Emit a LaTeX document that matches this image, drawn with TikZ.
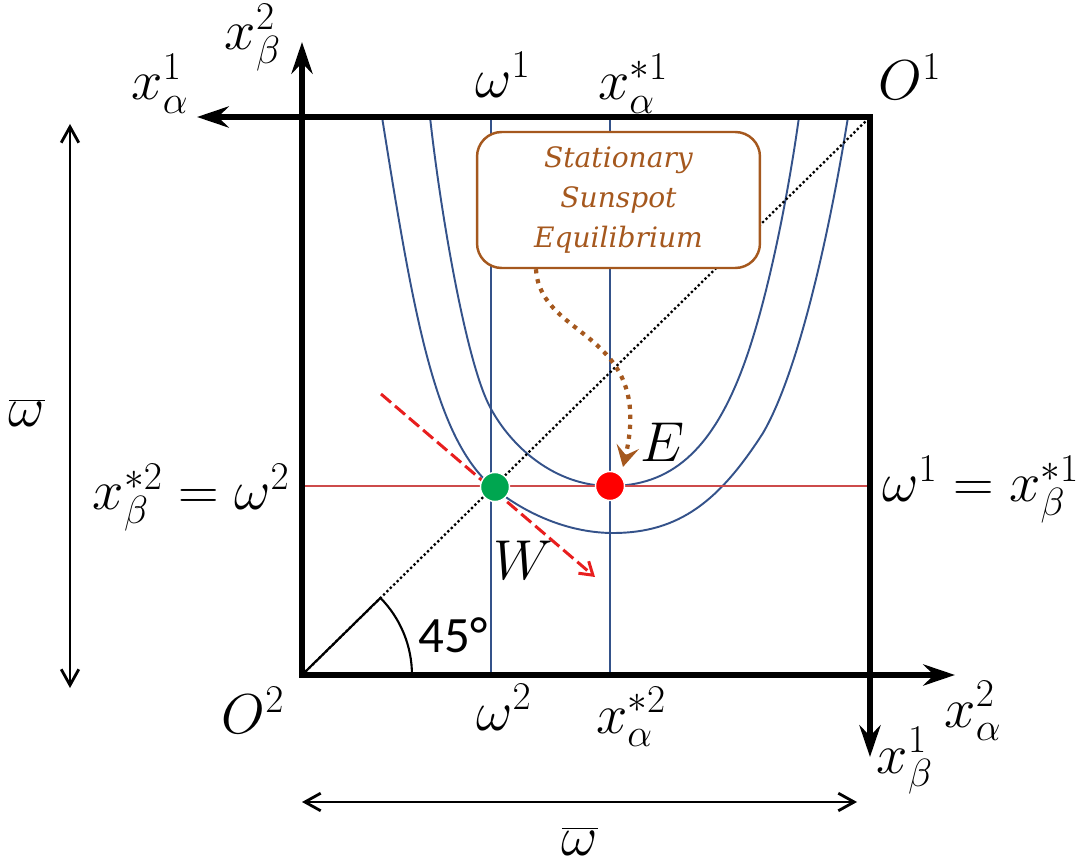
\RequirePackage{fix-cm}
\documentclass[tikz,border=0pt]{standalone}
\usepackage{fontspec}
\newfontfamily\calib{Carlito}
\newfontfamily\boxfont{DejaVu Serif}
\usetikzlibrary{arrows.meta}
\definecolor{curveblue}{RGB}{52,82,138}
\definecolor{hred}{RGB}{205,75,75}
\definecolor{sbrown}{RGB}{165,88,30}
\definecolor{wgreen}{RGB}{0,166,80}
\definecolor{dred}{RGB}{232,30,30}
\begin{document}
\begin{tikzpicture}[x=0.02cm, y=-0.02cm,
  lab/.style={inner sep=0pt, anchor=base, font=\fontsize{32}{38}\selectfont},
  axis/.style={line width=3.6pt, line join=miter, {Stealth[length=18pt,width=12pt,inset=6pt]}-{Stealth[length=18pt,width=12pt,inset=6pt]}},
  spanarrow/.style={line width=1.6pt, {Straight Barb[length=9pt,width=10pt]}-{Straight Barb[length=9pt,width=10pt]}},
  icurve/.style={curveblue, line width=1.1pt},
  hline/.style={hred, line width=1pt},
  diag/.style={black, line width=1.3pt, dash pattern=on 1.3pt off 1.4pt},
  rdash/.style={dred, line width=1.7pt, dash pattern=on 7.5pt off 3pt, -{Straight Barb[length=7pt,width=9pt]}},
  bflow/.style={sbrown, line width=2.4pt, dash pattern=on 2.4pt off 3.3pt, -{Stealth[length=12pt,width=13pt,inset=5pt]}},
  dot/.style={circle, draw=white, line width=0.8pt, inner sep=0pt, minimum size=0.58cm},
  sbox/.style={draw=sbrown, line width=1.4pt, rounded corners=14pt, fill=white, text=sbrown, align=center, minimum width=5.66cm, minimum height=2.72cm, font=\boxfont\itshape\fontsize{16}{22.7}\selectfont}
]
\path[use as bounding box] (0,0) rectangle (1090,868);

% main coordinates
\coordinate (O1) at (870,117);
\coordinate (O2) at (302,675);
\coordinate (xatip) at (197,117);
\coordinate (xbtip) at (870,757);
\coordinate (ybtip) at (302,42);
\coordinate (yatip) at (955,675);

% indifference curves
\draw[icurve] (382,117) .. controls (414,317) and (435,441) .. (495,489)
  .. controls (530,517) and (573,533) .. (613,533)
  .. controls (680,533) and (720,500) .. (763,433)
  .. controls (798,373) and (829,236) .. (848,117);
\draw[icurve] (430,117) .. controls (441,216) and (466.5,363) .. (490,407)
  .. controls (511,447) and (555,486) .. (610,486)
  .. controls (670,486) and (711.5,451.6) .. (743,367)
  .. controls (767.5,301) and (788,196) .. (799,117);

% vertical lines
\coordinate (w2t) at (491,117); \coordinate (w2b) at (491,675);
\coordinate (xt) at (610,117); \coordinate (xb) at (610,675);
\draw[icurve] (w2t) -- (w2b);
\draw[icurve] (xt) -- (xb);

% red horizontal line
\coordinate (hl) at (302,486); \coordinate (hr) at (870,486);
\draw[hline] (hl) -- (hr);

% diagonal
\draw[diag] (O2) -- (O1);
\draw[line width=1.2pt] (O2) -- ++(44.5:2.2cm);
\draw[line width=1.2pt] ([xshift=2.2cm]O2) arc[start angle=0, end angle=44.5, radius=2.2cm];

% red dashed arrow
\coordinate (rs) at (381,394); \coordinate (re) at (595,577);
\draw[rdash] (rs) -- (re);

% box
\node[sbox] (sse) at (618.5,200) {Stationary\\Sunspot\\Equilibrium};
\coordinate (etip) at (623,467);
\draw[bflow] (sse.220) .. controls (540,340) and (655,330) .. (etip);

% axes
\draw[axis] (xatip) -- (O1) -- (xbtip);
\draw[axis] (ybtip) -- (O2) -- (yatip);

% span arrows
\coordinate (lt) at (70,124); \coordinate (lb) at (70,688);
\coordinate (bl) at (302,802); \coordinate (br) at (857,802);
\draw[spanarrow] (lt) -- (lb);
\draw[spanarrow] (bl) -- (br);

% dots
\node[dot, fill=wgreen] (Wdot) at (495,487) {};
\node[dot, fill=red] (Edot) at (610,486) {};

% labels
\node[lab] (lxb2) at (253,50) {$x_\beta^2$};
\node[lab] (lxa1) at (160,100) {$x_\alpha^1$};
\node[lab] (lw1) at (503,98) {$\omega^1$};
\node[lab] (lxas1) at (633,100) {$x_\alpha^{*1}$};
\node[lab] (lO1) at (910,100) {$O^1$};
\node[lab, anchor=base east] (lleft) at (290,510) {$x_\beta^{*2}=\omega^2$};
\node[lab, anchor=base west] (lright) at (882,502) {$\omega^1=x_\beta^{*1}$};
\node[lab] (lO2) at (253,733) {$O^2$};
\node[lab] (lw2) at (504,730) {$\omega^2$};
\node[lab] (lxas2) at (631,733) {$x_\alpha^{*2}$};
\node[lab] (lxa2) at (973,727) {$x_\alpha^2$};
\node[lab] (lxb1) at (905,773) {$x_\beta^1$};
\node[lab] (lwbl) at (27,427) {$\overline{\omega}$};
\node[lab] (lwbb) at (580,855) {$\overline{\omega}$};
\node[lab] (lE) at (663,462) {$E$};
\node[lab] (lW) at (523,580) {$W$};
\node[inner sep=0pt, anchor=base, font=\calib\fontsize{29}{34}\selectfont] (ldeg) at (453,652) {45°};
\end{tikzpicture}
\end{document}
